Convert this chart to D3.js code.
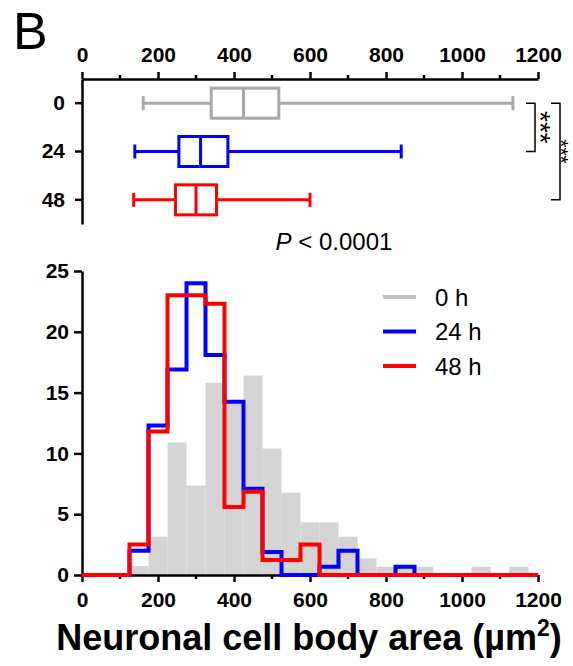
<!DOCTYPE html>
<html><head><meta charset="utf-8">
<script src="https://cdn.jsdelivr.net/npm/d3@7/dist/d3.min.js"></script>
<style>
html,body{margin:0;padding:0;background:#fff;}
svg{display:block;font-family:"Liberation Sans",Arial,Helvetica,sans-serif;}
</style></head>
<body>
<svg id="chart" width="573" height="666"></svg>
<script>
// ---- data ----
const boxGroups = ["0", "24", "48"];
const boxMin = [161, 139, 136];
const boxQ1 = [340, 255, 246];
const boxMedian = [425, 312, 300];
const boxQ3 = [518, 384, 354];
const boxMax = [1134, 840, 600];
const boxColors = ["#a8a8a8", "#0000ff", "#ff0000"];

const xTicks = [0, 200, 400, 600, 800, 1000, 1200];
const xMinorTicks = [100, 300, 500, 700, 900, 1100];
const yTicks = [0, 5, 10, 15, 20, 25];

const binStarts = [125, 175, 225, 275, 325, 375, 425, 475, 525, 575, 625, 675, 725, 775, 825, 875, 925, 975, 1025, 1075, 1125];
const binWidth = 50;
const hist0h = [0.74, 3.15, 10.9, 7.35, 15.8, 14.2, 16.4, 10.4, 6.77, 4.33, 4.33, 3.15, 1.37, 0.68, 0.68, 0.68, 0, 0, 0.68, 0, 0.68];
const hist24h = [2.0, 12.3, 16.9, 24.0, 18.1, 14.25, 7.1, 1.9, 0, 0, 0.68, 2.0, 0, 0, 0.68, 0, 0, 0, 0, 0, 0];
const hist48h = [2.5, 11.8, 23.0, 23.0, 22.3, 5.6, 6.85, 1.23, 1.23, 2.5, 0, 0, 0, 0, 0, 0, 0, 0, 0, 0, 0];

const legendLabels = ["0 h", "24 h", "48 h"];
const legendColors = ["#c4c4c4", "#0000ff", "#ff0000"];

// ---- layout ----
const svg = d3.select("#chart");
svg.append("rect").attr("width", 573).attr("height", 666).attr("fill", "#fff");

const x = d3.scaleLinear().domain([0, 1200]).range([82, 538]);
const rowY = d3.scaleBand().domain(boxGroups).range([79, 224]).paddingInner(0).paddingOuter(0);
const yc = g => rowY(g) + rowY.bandwidth() / 2;
const y = d3.scaleLinear().domain([0, 25]).range([575, 271]);

// Panel letter
svg.append("text").attr("x", 13).attr("y", 49).attr("font-size", 52).attr("fill", "#000").text("B");

function styleAxis(g, fs) {
  g.selectAll("path.domain").attr("stroke", "#000").attr("stroke-width", 2.5);
  g.selectAll(".tick line").attr("stroke", "#000").attr("stroke-width", 2.5);
  g.selectAll(".tick text").attr("font-size", fs).attr("font-weight", "bold").attr("fill", "#000")
    .attr("font-family", '"Liberation Sans",Arial,sans-serif');
}

// ---- box plot ----
const topAxis = svg.append("g").attr("transform", "translate(0,79)")
  .call(d3.axisTop(x).tickValues(xTicks).tickSize(7).tickSizeOuter(0).tickPadding(10).tickFormat(d3.format("d")));
styleAxis(topAxis, 21);
topAxis.selectAll(".minor").data(xMinorTicks).enter().append("line")
  .attr("x1", d => x(d)).attr("x2", d => x(d)).attr("y1", 0).attr("y2", -4)
  .attr("stroke", "#000").attr("stroke-width", 2.5);

const leftAxis = svg.append("g").attr("transform", "translate(82,0)")
  .call(d3.axisLeft(rowY).tickSize(7).tickSizeOuter(0).tickPadding(10));
styleAxis(leftAxis, 21);

const boxH = 30, capH = 14;
boxGroups.forEach((g, i) => {
  const c = boxColors[i], cy = yc(g);
  const bg = svg.append("g").attr("stroke", c).attr("stroke-width", 3).attr("fill", "none");
  bg.append("line").attr("x1", x(boxMin[i])).attr("x2", x(boxQ1[i])).attr("y1", cy).attr("y2", cy);
  bg.append("line").attr("x1", x(boxQ3[i])).attr("x2", x(boxMax[i])).attr("y1", cy).attr("y2", cy);
  bg.append("line").attr("x1", x(boxMin[i])).attr("x2", x(boxMin[i])).attr("y1", cy - capH / 2).attr("y2", cy + capH / 2);
  bg.append("line").attr("x1", x(boxMax[i])).attr("x2", x(boxMax[i])).attr("y1", cy - capH / 2).attr("y2", cy + capH / 2);
  bg.append("rect").attr("x", x(boxQ1[i])).attr("y", cy - boxH / 2)
    .attr("width", x(boxQ3[i]) - x(boxQ1[i])).attr("height", boxH);
  bg.append("line").attr("x1", x(boxMedian[i])).attr("x2", x(boxMedian[i])).attr("y1", cy - boxH / 2).attr("y2", cy + boxH / 2);
});

// significance brackets
function bracket(xr, g1, g2, tx, fs) {
  const y1 = yc(g1), y2 = yc(g2);
  svg.append("path").attr("d", `M${xr - 9},${y1}H${xr}V${y2}H${xr - 9}`)
    .attr("fill", "none").attr("stroke", "#000").attr("stroke-width", 1.5);
  svg.append("text").attr("transform", `translate(${tx},${(y1 + y2) / 2}) rotate(90)`)
    .attr("text-anchor", "middle").attr("dy", "0.58em").attr("font-size", fs).attr("fill", "#000").text("***");
}
bracket(535, "0", "24", 547, 28);
bracket(560, "0", "48", 566, 21);

// P value
const pt = svg.append("text").attr("x", 334).attr("y", 250).attr("text-anchor", "middle").attr("font-size", 24).attr("fill", "#000");
pt.append("tspan").attr("font-style", "italic").text("P");
pt.append("tspan").text(" < 0.0001");

// ---- histogram ----
svg.append("g").selectAll("rect").data(binStarts).enter().append("rect")
  .attr("x", d => x(d)).attr("width", d => x(d + binWidth) - x(d))
  .attr("y", (d, i) => y(hist0h[i])).attr("height", (d, i) => y(0) - y(hist0h[i]))
  .attr("fill", "#d4d4d4");

const bottomAxis = svg.append("g").attr("transform", "translate(0,575)")
  .call(d3.axisBottom(x).tickValues(xTicks).tickSize(7).tickSizeOuter(0).tickPadding(10).tickFormat(d3.format("d")));
styleAxis(bottomAxis, 21);
bottomAxis.selectAll(".minor").data(xMinorTicks).enter().append("line")
  .attr("x1", d => x(d)).attr("x2", d => x(d)).attr("y1", 0).attr("y2", 4)
  .attr("stroke", "#000").attr("stroke-width", 2.5);

const yAxis = svg.append("g").attr("transform", "translate(82,0)")
  .call(d3.axisLeft(y).tickValues(yTicks).tickSize(8).tickSizeOuter(0).tickPadding(5));
styleAxis(yAxis, 21);

function stepPoints(vals) {
  const pts = [[0, 0]];
  binStarts.forEach((s, i) => pts.push([s, vals[i]]));
  pts.push([binStarts[binStarts.length - 1] + binWidth, 0]);
  pts.push([1200, 0]);
  return pts;
}
const stepLine = d3.line().x(d => x(d[0])).y(d => y(d[1])).curve(d3.curveStepAfter);
svg.append("path").attr("d", stepLine(stepPoints(hist24h))).attr("fill", "none")
  .attr("stroke", "#0000ff").attr("stroke-width", 4).attr("stroke-linejoin", "miter");
svg.append("path").attr("d", stepLine(stepPoints(hist48h))).attr("fill", "none")
  .attr("stroke", "#ff0000").attr("stroke-width", 4).attr("stroke-linejoin", "miter");

// legend
const lg = svg.append("g");
legendLabels.forEach((l, i) => {
  const ly = 297 + i * 34.5;
  lg.append("line").attr("x1", 383).attr("x2", 416).attr("y1", ly).attr("y2", ly)
    .attr("stroke", legendColors[i]).attr("stroke-width", 4);
  lg.append("text").attr("x", 435).attr("y", ly).attr("dy", "0.36em").attr("font-size", 24).attr("fill", "#000").text(l);
});

// x title
const tt = svg.append("text").attr("x", 309).attr("y", 650).attr("text-anchor", "middle")
  .attr("font-size", 36).attr("font-weight", "bold").attr("fill", "#000");
tt.append("tspan").text("Neuronal cell body area (µm");
tt.append("tspan").attr("font-size", 23).attr("dy", -14).text("2");
tt.append("tspan").attr("dy", 14).text(")");
</script>
</body></html>
